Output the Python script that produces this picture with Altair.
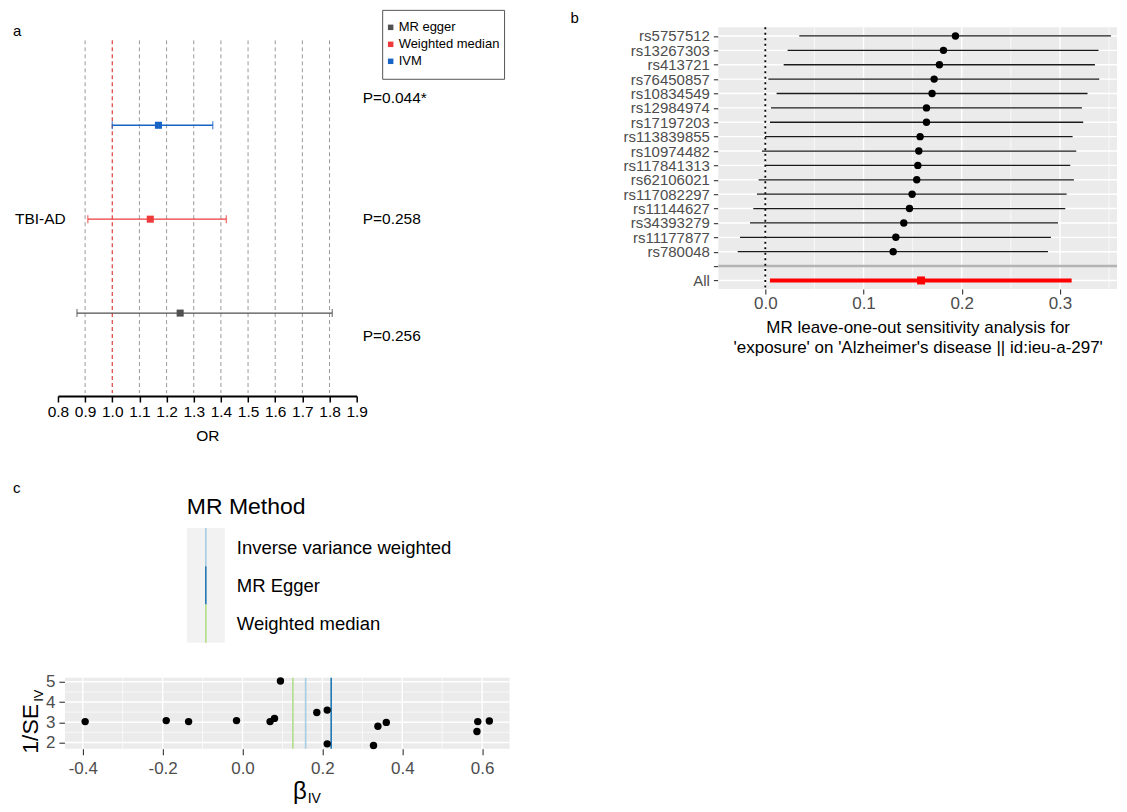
import altair as alt
import pandas as pd

FONT = "Liberation Sans"
GREY_TXT = "#4D4D4D"

# ---------------- Panel a: forest plot (OR) ----------------
a_methods = ["IVM", "Weighted median", "MR egger"]
a_or = [1.17, 1.14, 1.25]
a_lo = [1.00, 0.91, 0.87]
a_hi = [1.37, 1.42, 1.81]
a_rows = [1, 2, 3]
a_colors = ["#1763C6", "#EE3A3A", "#515151"]
a_pvals = ["P=0.044*", "P=0.258", "P=0.256"]
a_prow = [0.71, 2.0, 3.245]
a_ticks = [0.8, 0.9, 1.0, 1.1, 1.2, 1.3, 1.4, 1.5, 1.6, 1.7, 1.8, 1.9]
a_refs = [0.9, 1.1, 1.2, 1.3, 1.4, 1.5, 1.6, 1.7, 1.8]
a_null = 1.0
a_legend = ["MR egger", "Weighted median", "IVM"]
a_group = "TBI-AD"

# ---------------- Panel b: leave-one-out ----------------
b_snps = ["rs5757512", "rs13267303", "rs413721", "rs76450857", "rs10834549",
          "rs12984974", "rs17197203", "rs113839855", "rs10974482", "rs117841313",
          "rs62106021", "rs117082297", "rs11144627", "rs34393279", "rs11177877",
          "rs780048"]
b_est = [0.1936, 0.1814, 0.1773, 0.1719, 0.1698, 0.1641, 0.1641, 0.1576,
         0.1563, 0.1553, 0.1542, 0.1495, 0.1468, 0.1410, 0.1329, 0.1302]
b_lo = [0.0346, 0.0227, 0.0187, 0.0031, 0.0115, 0.0058, 0.0047, -0.0003,
        -0.0034, -0.0003, -0.0068, -0.0085, -0.0122, -0.0156, -0.0258, -0.0281]
b_hi = [0.3519, 0.3393, 0.3356, 0.3400, 0.3281, 0.3224, 0.3237, 0.3129,
        0.3166, 0.3105, 0.3142, 0.3068, 0.3054, 0.2980, 0.2908, 0.2878]
b_all = [0.1586, 0.0047, 0.3119]
b_ticks = [0.0, 0.1, 0.2, 0.3]
b_minor = [0.05, 0.15, 0.25, 0.35]
b_title = ["MR leave-one-out sensitivity analysis for",
           "'exposure' on 'Alzheimer's disease || id:ieu-a-297'"]

# ---------------- Panel c: funnel plot ----------------
c_beta = [-0.394, -0.191, -0.135, -0.015, 0.069, 0.080, 0.095, 0.186,
          0.212, 0.212, 0.328, 0.339, 0.360, 0.589, 0.587, 0.618]
c_invse = [3.03, 3.08, 3.03, 3.08, 3.03, 3.19, 5.04, 3.48,
           3.60, 1.93, 1.85, 2.80, 2.99, 3.03, 2.54, 3.06]
mr_methods = ["Inverse variance weighted", "MR Egger", "Weighted median"]
mr_beta = [0.158, 0.222, 0.126]
mr_colors = ["#A6CEE3", "#1F78B4", "#B2DF8A"]
c_xticks = [-0.4, -0.2, 0.0, 0.2, 0.4, 0.6]
c_xminor = [-0.3, -0.1, 0.1, 0.3, 0.5]
c_yticks = [2, 3, 4, 5]
c_yminor = [2.5, 3.5, 4.5]

# ---------------- layout (pixels) ----------------
X0, Y0 = 58, 27
AW, AH = 299, 369
BX, BW, BH = 719, 399, 262
CY, CW, CH = 678, 452, 71
CSH = 7
COL_GAP = BX - (X0 + max(AW, CW))
ROW_GAP = CY - (Y0 + AH)

ONE = alt.Data(values=[{"k": 0}])


def txt(text, x, y, size, align="left", baseline="middle", color="black", angle=None):
    kw = dict(text=text, fontSize=size, align=align, baseline=baseline, color=color, font=FONT)
    if angle is not None:
        kw["angle"] = angle
    return alt.Chart(ONE).mark_text(**kw).encode(x=alt.value(x), y=alt.value(y))


def box(x, x2, y, y2, **kw):
    return alt.Chart(ONE).mark_rect(**kw).encode(
        x=alt.value(x), x2=alt.value(x2), y=alt.value(y), y2=alt.value(y2))


# ================= Panel a =================
a_df = pd.DataFrame({"method": a_methods, "est": a_or, "lo": a_lo, "hi": a_hi, "row": a_rows})
a_color = alt.Color("method:N", scale=alt.Scale(domain=a_methods, range=a_colors), legend=None)
a_xscale = alt.Scale(domain=[0.8, 1.9], nice=False, zero=False)
a_axis = alt.Axis(values=a_ticks, format=".1f", title="OR", grid=False, domain=True,
                  domainColor="black", domainWidth=2, tickColor="black", tickWidth=1.5,
                  tickSize=6, labelFontSize=15.5, labelColor="black", labelFlush=False,
                  labelOverlap=False, labelPadding=3, titleFontSize=15.5,
                  titleFontWeight="normal", titleColor="black", titlePadding=8)
a_yscale = alt.Scale(domain=[-0.0426, 3.883], nice=False, zero=False, reverse=True)


def ax(f):
    return alt.X(f, type="quantitative", scale=a_xscale, axis=a_axis)


def ay(f):
    return alt.Y(f, type="quantitative", scale=a_yscale, axis=None)


a_layers = [
    box(-50, -49, -19, -18, opacity=0),
    alt.Chart(pd.DataFrame({"v": a_refs})).mark_rule(
        color="#9A9A9A", strokeDash=[4, 3], strokeWidth=1).encode(
        x=ax("v"), y=alt.value(13), y2=alt.value(366)),
    alt.Chart(pd.DataFrame({"v": [a_null]})).mark_rule(
        color="#E0403A", strokeDash=[4, 3], strokeWidth=1.2).encode(
        x=ax("v"), y=alt.value(13), y2=alt.value(366)),
    alt.Chart(a_df).mark_rule(strokeWidth=1.3).encode(
        x=ax("lo"), x2=alt.X2("hi"), y=ay("row"), color=a_color),
    alt.Chart(a_df).mark_tick(orient="vertical", size=8, thickness=1.3).encode(
        x=ax("lo"), y=ay("row"), color=a_color),
    alt.Chart(a_df).mark_tick(orient="vertical", size=8, thickness=1.3).encode(
        x=ax("hi"), y=ay("row"), color=a_color),
    alt.Chart(a_df).mark_square(size=50, opacity=1).encode(
        x=ax("est"), y=ay("row"), color=a_color),
    alt.Chart(pd.DataFrame({"p": a_pvals, "prow": a_prow})).mark_text(
        align="left", baseline="middle", fontSize=15.5, color="black").encode(
        x=alt.value(305), y=ay("prow"), text="p:N"),
    alt.Chart(pd.DataFrame({"lab": [a_group], "row": [2]})).mark_text(
        align="left", baseline="middle", fontSize=15.5, color="black").encode(
        x=alt.value(-43), y=ay("row"), text="lab:N"),
    box(325, 447, -17, 52, fill="white", stroke="#555555", strokeWidth=1),
    txt("a", -45, 4, 15),
]
for i, name in enumerate(a_legend):
    col = a_colors[a_methods.index(name)]
    a_layers.append(alt.Chart(ONE).mark_square(size=30, color=col, opacity=1).encode(
        x=alt.value(333), y=alt.value(0 + i * 17)))
    a_layers.append(txt(name, 341, 0 + i * 17, 13))

panel_a = alt.layer(*a_layers).properties(width=AW, height=AH)

# ================= Panel b =================
b_order = b_snps + ["blank", "All"]
b_df = pd.DataFrame({"snp": b_snps, "b": b_est, "lo": b_lo, "hi": b_hi})
all_df = pd.DataFrame({"snp": ["All"], "b": [b_all[0]], "lo": [b_all[1]], "hi": [b_all[2]]})
b_xscale = alt.Scale(domain=[-0.0478, 0.3581], nice=False, zero=False)
b_xaxis = alt.Axis(values=b_ticks, format=".1f", title=b_title, grid=False, domain=False,
                   tickColor="#333333", tickWidth=1.1, tickSize=5, labelFontSize=17,
                   labelColor=GREY_TXT, labelFlush=False, labelPadding=1,
                   titleFontSize=17, titleFontWeight="normal", titleColor="black",
                   titlePadding=8, titleLineHeight=20)
b_yscale = alt.Scale(type="point", domain=b_order, padding=0.6)
b_yaxis = alt.Axis(title=None, grid=False, domain=False, tickColor="#333333", tickWidth=1.1,
                   tickSize=5, labelFontSize=15, labelColor=GREY_TXT, labelPadding=4,
                   labelOverlap=False,
                   labelExpr="datum.value == 'blank' ? '' : datum.value")


def bx(f):
    return alt.X(f, type="quantitative", scale=b_xscale, axis=b_xaxis)


def by(f):
    return alt.Y(f, type="nominal", scale=b_yscale, axis=b_yaxis)


b_layers = [
    box(0, BW, 0, BH, fill="#EBEBEB"),
    alt.Chart(pd.DataFrame({"v": b_minor})).mark_rule(color="white", strokeWidth=0.7).encode(
        x=bx("v"), y=alt.value(0), y2=alt.value(BH)),
    alt.Chart(pd.DataFrame({"v": b_ticks})).mark_rule(color="white", strokeWidth=1.4).encode(
        x=bx("v"), y=alt.value(0), y2=alt.value(BH)),
    alt.Chart(pd.DataFrame({"snp": b_order})).mark_rule(color="white", strokeWidth=1.4).encode(
        y=by("snp"), x=alt.value(0), x2=alt.value(BW)),
    alt.Chart(pd.DataFrame({"snp": ["blank"]})).mark_rule(color="#B3B3B3", strokeWidth=2.5).encode(
        y=by("snp"), x=alt.value(0), x2=alt.value(BW)),
    alt.Chart(pd.DataFrame({"v": [0.0]})).mark_rule(
        color="black", strokeDash=[2, 3.5], strokeWidth=1.8).encode(
        x=bx("v"), y=alt.value(0), y2=alt.value(BH)),
    alt.Chart(b_df).mark_rule(color="#1A1A1A", strokeWidth=1.3).encode(
        x=bx("lo"), x2=alt.X2("hi"), y=by("snp")),
    alt.Chart(b_df).mark_circle(size=55, color="black", opacity=1).encode(
        x=bx("b"), y=by("snp")),
    alt.Chart(all_df).mark_rule(color="#FF0000", strokeWidth=4).encode(
        x=bx("lo"), x2=alt.X2("hi"), y=by("snp")),
    alt.Chart(all_df).mark_square(size=64, color="#FF0000", opacity=1).encode(
        x=bx("b"), y=by("snp")),
    txt("b", -148, -9, 15),
]
panel_b = alt.layer(*b_layers).properties(width=BW, height=BH)

# ================= Panel c =================
c_df = pd.DataFrame({"beta": c_beta, "invse": c_invse})
m_df = pd.DataFrame({"method": mr_methods, "beta": mr_beta})
pxu = (CW - CSH) / (0.6686 + 0.4446)
c_xscale = alt.Scale(domain=[-0.4446 - CSH / pxu, 0.6686], nice=False, zero=False)
c_yscale = alt.Scale(domain=[1.69, 5.2], nice=False, zero=False)
c_xaxis = alt.Axis(values=c_xticks, title=None, grid=False, domain=False, tickColor="#333333",
                   tickWidth=1.1, tickSize=6, labelFontSize=17, labelColor=GREY_TXT,
                   labelFlush=False, labelPadding=6, labelOverlap=False,
                   labelExpr="datum.value < 0 ? '-' + format(-datum.value, '.1f') : format(datum.value, '.1f')")
c_yaxis = alt.Axis(values=c_yticks, title=None, grid=False, domain=False, tickColor="#333333",
                   tickWidth=1.1, tickSize=6, labelFontSize=17, labelColor=GREY_TXT,
                   labelPadding=4, offset=-CSH, labelFlush=False)


def cx(f):
    return alt.X(f, type="quantitative", scale=c_xscale, axis=c_xaxis)


def cy(f):
    return alt.Y(f, type="quantitative", scale=c_yscale, axis=c_yaxis)


c_layers = [
    box(CSH, CW, 0, CH, fill="#EBEBEB"),
    alt.Chart(pd.DataFrame({"v": c_xminor})).mark_rule(color="white", strokeWidth=0.7).encode(
        x=cx("v"), y=alt.value(0), y2=alt.value(CH)),
    alt.Chart(pd.DataFrame({"v": c_yminor})).mark_rule(color="white", strokeWidth=0.7).encode(
        y=cy("v"), x=alt.value(CSH), x2=alt.value(CW)),
    alt.Chart(pd.DataFrame({"v": c_xticks})).mark_rule(color="white", strokeWidth=1.4).encode(
        x=cx("v"), y=alt.value(0), y2=alt.value(CH)),
    alt.Chart(pd.DataFrame({"v": c_yticks})).mark_rule(color="white", strokeWidth=1.4).encode(
        y=cy("v"), x=alt.value(CSH), x2=alt.value(CW)),
    alt.Chart(m_df).mark_rule(strokeWidth=1.6).encode(
        x=cx("beta"), y=alt.value(0), y2=alt.value(CH),
        color=alt.Color("method:N", scale=alt.Scale(domain=mr_methods, range=mr_colors), legend=None)),
    alt.Chart(c_df).mark_circle(size=55, color="black", opacity=1).encode(
        x=cx("beta"), y=cy("invse")),
    txt("c", -45, -190, 15),
    txt("MR Method", 129, -171, 23),
    box(129, 167, -150, -35, fill="#F2F2F2"),
    txt("1/SE", -20, 76, 23, baseline="alphabetic", angle=270),
    txt("IV", -15, 24, 13, baseline="alphabetic", angle=270),
    txt("\u03b2", 249, 121, 24, align="right", baseline="alphabetic"),
    txt("IV", 250, 125, 14, baseline="alphabetic"),
]
for i, (name, col) in enumerate(zip(mr_methods, mr_colors)):
    y_top = -150 + i * 38.3
    c_layers.append(alt.Chart(ONE).mark_rule(color=col, strokeWidth=1.6).encode(
        x=alt.value(148), y=alt.value(y_top), y2=alt.value(y_top + 38.3)))
    c_layers.append(txt(name, 179, y_top + 20, 18.5))

panel_c = alt.layer(*c_layers).properties(width=CW, height=CH)

chart = alt.concat(
    panel_a, panel_b, panel_c, columns=2,
    spacing={"row": ROW_GAP, "column": COL_GAP}, bounds="flush", align="all"
).resolve_scale(color="independent").properties(padding=0).configure(
    font=FONT).configure_view(strokeWidth=0)

chart.save("out.html", embed_options={"renderer": "svg", "actions": False})
